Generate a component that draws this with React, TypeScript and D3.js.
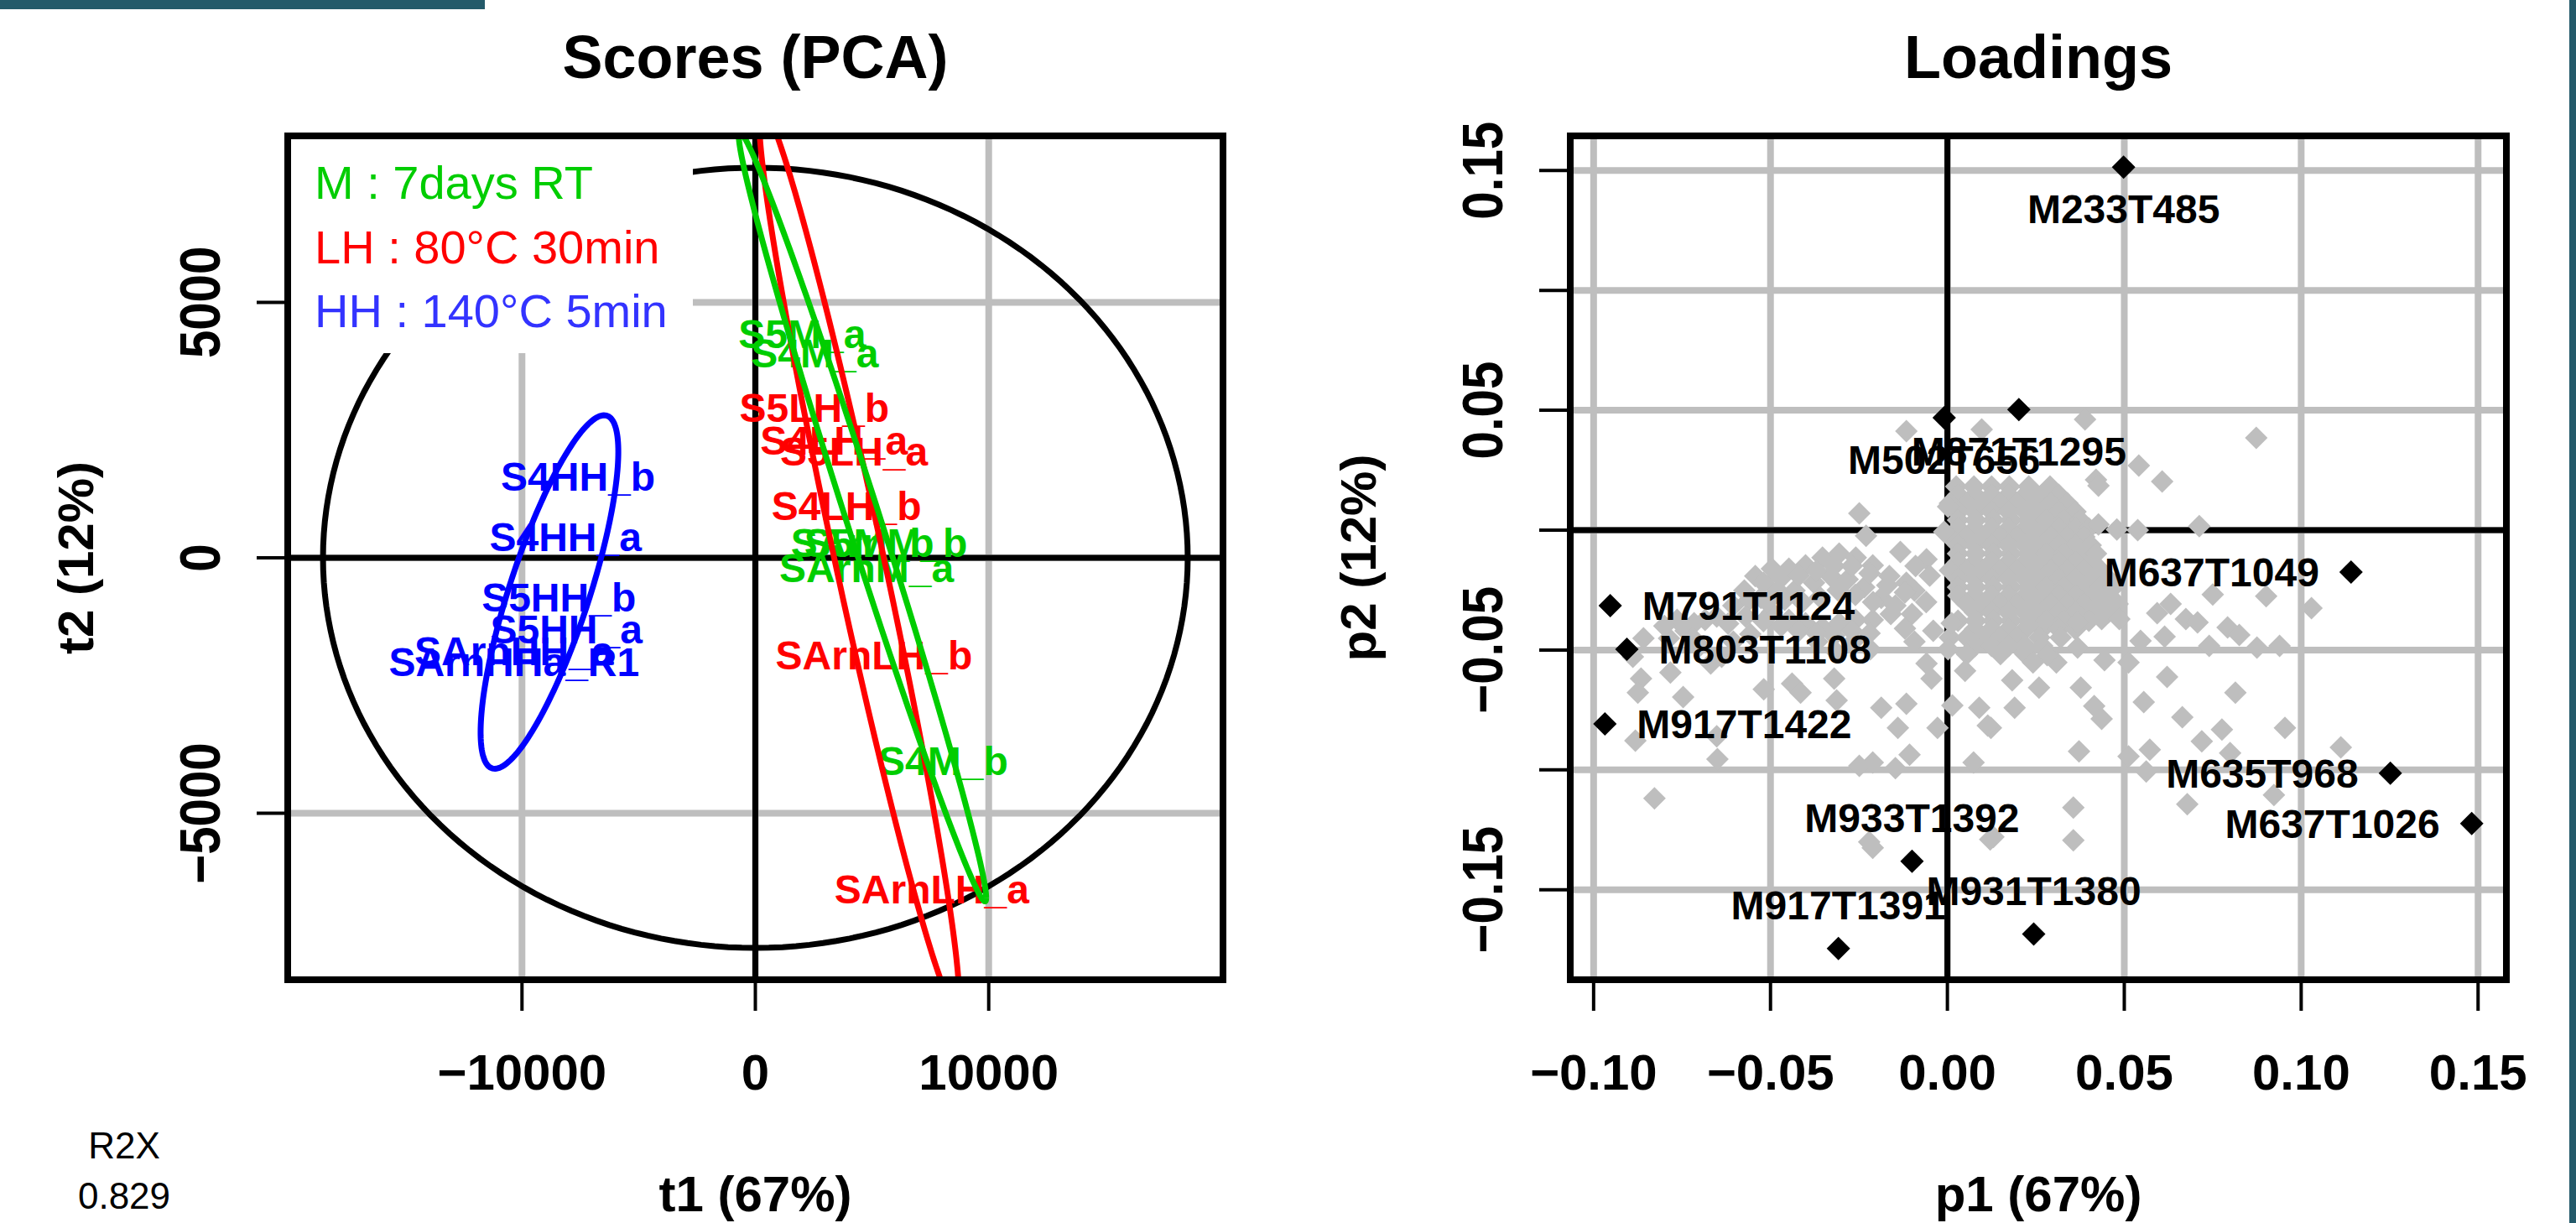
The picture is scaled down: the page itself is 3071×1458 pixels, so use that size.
import React from "react";
import * as d3 from "d3";

const FONT = "'Liberation Sans', Arial, Helvetica, sans-serif";

// ---------- Scores (PCA) data ----------
const sampleNames = [
  "S4HH_a", "S4HH_b", "S5HH_a", "S5HH_b", "SArnHH_a", "SArnHHa_R1",
  "S4LH_a", "S4LH_b", "S5LH_a", "S5LH_b", "SArnLH_a", "SArnLH_b",
  "S4M_a", "S4M_b", "S5M_a", "S5M_b", "SArnM_a", "SArnM_b",
];
const sampleGroups = [
  "HH", "HH", "HH", "HH", "HH", "HH",
  "LH", "LH", "LH", "LH", "LH", "LH",
  "M", "M", "M", "M", "M", "M",
];
const scoreT1 = [
  -8136, -7598, -8100, -8422, -10341, -10341,
  3369, 3907, 4229, 2527, 7562, 5082,
  2545, 8050, 2007, 4874, 4767, 5304,
];
const scoreT2 = [
  410, 1590, -1393, -770, -1819, -2032,
  2295, 1016, 2081, 2934, -6490, -1901,
  3999, -3966, 4376, 295, -197, 295,
];
const groupOrder = ["HH", "LH", "M"];
const groupColors: Record<string, string> = { HH: "#0000FF", LH: "#FF0000", M: "#00CD00" };
const legendText = ["M : 7days RT", "LH : 80°C 30min", "HH : 140°C 5min"];
const legendColors = ["#00CD00", "#FF0000", "#3333FF"];
const scoreXTicks = [-10000, 0, 10000];
const scoreYTicks = [-5000, 0, 5000];
const r2xLabel = ["R2X", "0.829"];

// ---------- Loadings data ----------
const loadNames = [
  "M233T485", "M502T656", "M871T1295", "M637T1049", "M791T1124", "M803T1108",
  "M917T1422", "M635T968", "M637T1026", "M933T1392", "M917T1391", "M931T1380",
];
const loadP1 = [0.0498, -0.0009, 0.0202, 0.1141, -0.0953, -0.0906, -0.0968, 0.1252, 0.1482, -0.01, -0.0308, 0.0244];
const loadP2 = [0.1514, 0.0469, 0.0503, -0.0175, -0.0315, -0.0497, -0.0808, -0.1014, -0.1224, -0.1381, -0.1745, -0.1685];
const loadLabelPos = ["below", "below", "below", "left", "right", "right", "right", "left", "left", "above", "above", "above"];

// grey (unlabelled) variables, scattered part
const otherLoadings: [number, number][] = [
  [0.0389, 0.0462], [0.0873, 0.0385], [-0.0116, 0.0413], [0.0097, 0.042], [0.0541, 0.0269],
  [0.0607, 0.0203], [0.042, 0.021], [0.0427, 0.0185], [-0.0249, 0.007], [0.0712, 0.0017],
  [0.0538, 0.0], [0.0479, 0.0003], [0.0427, 0.0024], [-0.0133, -0.0091], [-0.0059, -0.0122],
  [0.075, -0.0269], [0.0901, -0.0276], [0.1029, -0.0325], [0.0631, -0.0308], [0.0674, -0.0371],
  [0.0707, -0.0385], [0.0593, -0.0346], [0.0792, -0.0406], [0.0825, -0.0437], [0.0875, -0.049],
  [0.0939, -0.0483], [0.074, -0.0483], [0.0614, -0.0444], [0.0546, -0.0462], [0.0512, -0.0552],
  [0.0444, -0.0542], [0.0368, -0.049], [0.0621, -0.0612], [0.0555, -0.0717], [0.0664, -0.078],
  [0.0814, -0.0678], [0.0776, -0.0832], [0.0719, -0.0881], [0.0954, -0.0825], [0.1112, -0.0906],
  [0.0799, -0.093], [0.0572, -0.0916], [0.0512, -0.0944], [0.0372, -0.0923], [0.0562, -0.1007],
  [0.0678, -0.1143], [0.0923, -0.1105], [0.0356, -0.1157], [0.0356, -0.1294], [0.013, -0.128],
  [0.0436, -0.0787], [0.0415, -0.0734], [0.0377, -0.0657], [0.019, -0.0741], [0.0123, -0.0825],
  [0.0183, -0.0626], [0.0259, -0.0657], [0.0308, -0.0552], [0.0282, -0.0521], [0.0436, -0.0371],
  [0.0486, -0.0371], [0.0368, -0.0385], [0.0242, -0.0552],
  [-0.023, -0.0024], [0.0002, 0.0098], [-0.0009, -0.0007], [-0.0543, -0.0192], [-0.0496, -0.0161],
  [-0.0448, -0.0161], [-0.0401, -0.0147], [-0.0353, -0.0115], [-0.0306, -0.0098], [-0.0259, -0.0115],
  [-0.0211, -0.0147], [-0.0164, -0.0192], [-0.0116, -0.022], [-0.0093, -0.0252], [-0.0377, -0.022],
  [-0.033, -0.0192], [-0.0282, -0.0206], [-0.0235, -0.0238], [-0.0187, -0.0283], [-0.0147, -0.0315],
  [-0.0432, -0.0252], [-0.0479, -0.0252], [-0.0527, -0.0283], [-0.0574, -0.0252], [-0.0605, -0.0315],
  [-0.0652, -0.036], [-0.0685, -0.0374], [-0.0716, -0.0388], [-0.0764, -0.0374], [-0.0787, -0.0451],
  [-0.0859, -0.0451], [-0.0889, -0.0528], [-0.0496, -0.0343], [-0.0448, -0.0374], [-0.0401, -0.0388],
  [-0.0353, -0.0406], [-0.0306, -0.0388], [-0.0259, -0.0374], [-0.0211, -0.0374], [-0.0266, -0.0465],
  [-0.0218, -0.0497], [-0.0313, -0.051], [-0.0368, -0.0465], [-0.0557, -0.0434], [-0.0605, -0.0465],
  [-0.0669, -0.0556], [-0.0638, -0.0528], [-0.07, -0.0483], [-0.0093, -0.0465], [-0.0059, -0.0556],
  [-0.0045, -0.0619], [0.0012, -0.0388], [0.0002, -0.0497], [0.005, -0.0587],
  [-0.052, -0.022], [-0.047, -0.02], [-0.042, -0.019], [-0.037, -0.017], [-0.032, -0.015],
  [-0.027, -0.015], [-0.022, -0.018], [-0.017, -0.023], [-0.012, -0.026], [-0.056, -0.029],
  [-0.051, -0.03], [-0.046, -0.029], [-0.041, -0.03], [-0.036, -0.028], [-0.031, -0.025],
  [-0.026, -0.027], [-0.021, -0.03], [-0.016, -0.035], [-0.062, -0.039], [-0.057, -0.036],
  [-0.052, -0.038], [-0.047, -0.04], [-0.042, -0.042], [-0.037, -0.043], [-0.032, -0.044],
  [-0.027, -0.042], [-0.022, -0.043], [-0.074, -0.042], [-0.08, -0.04], [-0.072, -0.045],
  [-0.009, -0.015], [-0.005, -0.019], [-0.006, -0.03], [-0.01, -0.035], [-0.004, -0.042], [-0.012, -0.041],
  [-0.0866, -0.0619], [-0.0783, -0.0594], [-0.0875, -0.0678], [-0.0747, -0.0696], [-0.0882, -0.0878],
  [-0.0652, -0.086], [-0.065, -0.0955], [-0.0828, -0.1119], [-0.0519, -0.0664], [-0.0439, -0.064],
  [-0.0415, -0.0678], [-0.032, -0.0619], [-0.0313, -0.071], [-0.0187, -0.0741], [-0.0116, -0.0724],
  [-0.014, -0.0825], [-0.0028, -0.0825], [0.0014, -0.0731], [-0.0249, -0.0983], [-0.0211, -0.0969],
  [-0.0147, -0.0993], [-0.0107, -0.0937], [-0.0211, -0.1325], [-0.0221, -0.1301], [0.009, -0.0741],
  [0.0114, -0.0815], [0.0074, -0.0969], [0.0121, -0.129],
];

// grey variables, dense core near the origin (rows of p2 with their p1 values)
const coreRows: { p2: number; p1: number[] }[] = [
  { p2: 0.0182, p1: [0.0025, 0.0075, 0.0125, 0.0175, 0.023, 0.029] },
  { p2: 0.0147, p1: [0.0031, 0.0078, 0.0125, 0.0173, 0.022, 0.0268, 0.0315] },
  { p2: 0.0112, p1: [0.0007, 0.0055, 0.0102, 0.0149, 0.0197, 0.0244, 0.0292, 0.0339] },
  { p2: 0.0077, p1: [0.0031, 0.0078, 0.0125, 0.0173, 0.022, 0.0268, 0.0315, 0.0362] },
  { p2: 0.0042, p1: [0.003, 0.008, 0.013, 0.018, 0.023, 0.028, 0.033, 0.0375] },
  { p2: 0.0007, p1: [0.0031, 0.0078, 0.0125, 0.0173, 0.022, 0.0268, 0.0315, 0.0362, 0.04] },
  { p2: -0.0028, p1: [0.0007, 0.0055, 0.0102, 0.0149, 0.0197, 0.0244, 0.0292, 0.0339, 0.0387] },
  { p2: -0.0063, p1: [0.0031, 0.0078, 0.0125, 0.0173, 0.022, 0.0268, 0.0315, 0.0362, 0.0405] },
  { p2: -0.0098, p1: [0.003, 0.008, 0.013, 0.018, 0.023, 0.028, 0.033, 0.038, 0.042] },
  { p2: -0.0133, p1: [0.0031, 0.0078, 0.0125, 0.0173, 0.022, 0.0268, 0.0315, 0.0362, 0.041] },
  { p2: -0.0168, p1: [0.0007, 0.0055, 0.0102, 0.0149, 0.0197, 0.0244, 0.0292, 0.0339, 0.0387, 0.0434] },
  { p2: -0.0203, p1: [0.0031, 0.0078, 0.0125, 0.0173, 0.022, 0.0268, 0.0315, 0.0362, 0.041, 0.0455] },
  { p2: -0.0238, p1: [0.003, 0.008, 0.013, 0.018, 0.023, 0.028, 0.033, 0.038, 0.043, 0.047] },
  { p2: -0.0273, p1: [0.0031, 0.0078, 0.0125, 0.0173, 0.022, 0.0268, 0.0315, 0.0362, 0.041, 0.0455] },
  { p2: -0.0308, p1: [0.0055, 0.0102, 0.0149, 0.0197, 0.0244, 0.0292, 0.0339, 0.0387, 0.0434, 0.0481] },
  { p2: -0.0343, p1: [0.0078, 0.0125, 0.0173, 0.022, 0.0268, 0.0315, 0.0362, 0.041, 0.0455] },
  { p2: -0.0378, p1: [0.003, 0.008, 0.013, 0.018, 0.023, 0.028, 0.033, 0.04] },
  { p2: -0.0413, p1: [0.0078, 0.0125, 0.0173, 0.022, 0.0268, 0.0315, 0.0362] },
  { p2: -0.0448, p1: [0.0007, 0.0055, 0.0102, 0.0149, 0.0197, 0.026, 0.032] },
  { p2: -0.0483, p1: [0.0078, 0.0125, 0.0173, 0.022, 0.0268] },
  { p2: -0.0517, p1: [0.0055, 0.015, 0.022] },
];
const coreLoadings: [number, number][] = coreRows.flatMap((r) => r.p1.map((p) => [p, r.p2] as [number, number]));

const loadXTicks = [-0.1, -0.05, 0, 0.05, 0.1, 0.15];
const loadYTicks = [-0.15, -0.1, -0.05, 0, 0.05, 0.1, 0.15];
const loadYTickLabels = [-0.15, -0.05, 0.05, 0.15];

// ---------- layout ----------
const W = 3071;
const H = 1458;
const scoreBox = { x0: 343, x1: 1458, y0: 162, y1: 1168 };
const loadBox = { x0: 1872, x1: 2988, y0: 162, y1: 1168 };
const GRID = "#BEBEBE";

// Hotelling T2 ellipse radii (as in ropls)
const nObs = scoreT1.length;
const qf2 = (p: number, d: number) => (d / 2) * (Math.pow(1 - p, -2 / d) - 1);
const hotFisN = (((nObs - 1) * 2 * (nObs * nObs - 1)) / (nObs * nObs * (nObs - 2))) * qf2(0.95, nObs - 2);
const radX = Math.sqrt((d3.variance(scoreT1) as number) * hotFisN);
const radY = Math.sqrt((d3.variance(scoreT2) as number) * hotFisN);
const xLim = radX * 1.04 * 1.04;
const yLim = radY * 1.04 * 1.04;

const xS = d3.scaleLinear().domain([-xLim, xLim]).range([scoreBox.x0, scoreBox.x1]);
const yS = d3.scaleLinear().domain([-yLim, yLim]).range([scoreBox.y1, scoreBox.y0]);

// 95% data ellipse per group
const chi = Math.sqrt(-2 * Math.log(0.05));
function groupEllipse(g: string): [number, number][] {
  const idx = sampleGroups.map((s, i) => (s === g ? i : -1)).filter((i) => i >= 0);
  const xs = idx.map((i) => scoreT1[i]);
  const ys = idx.map((i) => scoreT2[i]);
  const mx = d3.mean(xs) as number;
  const my = d3.mean(ys) as number;
  const sxx = d3.variance(xs) as number;
  const syy = d3.variance(ys) as number;
  const sxy = d3.sum(xs.map((x, k) => (x - mx) * (ys[k] - my))) / (xs.length - 1);
  const a = Math.sqrt(sxx);
  const b = sxy / a;
  const d = Math.sqrt(syy - b * b);
  return d3.range(0, 201).map((k) => {
    const th = (2 * Math.PI * k) / 200;
    return [mx + chi * a * Math.cos(th), my + chi * (b * Math.cos(th) + d * Math.sin(th))];
  });
}

const hotPts: [number, number][] = d3.range(0, 201).map((k) => {
  const th = (2 * Math.PI * k) / 200;
  return [radX * Math.cos(th), radY * Math.sin(th)];
});

const scoreLine = d3
  .line<[number, number]>()
  .x((d) => xS(d[0]))
  .y((d) => yS(d[1]));

// loadings scales (data range + 4%)
const allP1 = [...loadP1, ...otherLoadings.map((d) => d[0]), ...coreLoadings.map((d) => d[0])];
const allP2 = [...loadP2, ...otherLoadings.map((d) => d[1]), ...coreLoadings.map((d) => d[1])];
const [p1Min, p1Max] = d3.extent(allP1) as [number, number];
const [p2Min, p2Max] = d3.extent(allP2) as [number, number];
const p1Pad = (p1Max - p1Min) * 0.04;
const p2Pad = (p2Max - p2Min) * 0.04;
const xL = d3.scaleLinear().domain([p1Min - p1Pad, p1Max + p1Pad]).range([loadBox.x0, loadBox.x1]);
const yL = d3.scaleLinear().domain([p2Min - p2Pad, p2Max + p2Pad]).range([loadBox.y1, loadBox.y0]);

const fmtScore = d3.format("d");
const fmtLoad = d3.format(".2f");

const diamond = (x: number, y: number, r: number) =>
  `M${x},${y - r}L${x + r},${y}L${x},${y + r}L${x - r},${y}Z`;

function Frame({ box, xTicks, yTicks, xLabels, yLabels, xs, ys, xFmt, yFmt, title, xTitle, yTitle }: any) {
  const cx = (box.x0 + box.x1) / 2;
  const cy = (box.y0 + box.y1) / 2;
  return (
    <g>
      {/* ticks */}
      {xTicks.map((t: number) => (
        <line key={"xt" + t} x1={xs(t)} x2={xs(t)} y1={box.y1} y2={box.y1 + 37} stroke="#000" strokeWidth={4} />
      ))}
      {yTicks.map((t: number) => (
        <line key={"yt" + t} x1={box.x0 - 37} x2={box.x0} y1={ys(t)} y2={ys(t)} stroke="#000" strokeWidth={4} />
      ))}
      {xLabels.map((t: number) => (
        <text key={"xl" + t} x={xs(t)} y={1299} textAnchor="middle" fontSize={60} fontWeight="bold" fontFamily={FONT}>
          {xFmt(t)}
        </text>
      ))}
      {yLabels.map((t: number) => (
        <text
          key={"yl" + t}
          transform={`translate(${box.x0 - 81},${ys(t)}) rotate(-90) scale(1,1.14)`}
          textAnchor="middle"
          fontSize={60}
          fontWeight="bold"
          fontFamily={FONT}
        >
          {yFmt(t)}
        </text>
      ))}
      <text x={cx} y={93} textAnchor="middle" fontSize={72} fontWeight="bold" fontFamily={FONT}>
        {title}
      </text>
      <text x={cx} y={1444} textAnchor="middle" fontSize={60} fontWeight="bold" fontFamily={FONT}>
        {xTitle}
      </text>
      <text
        transform={`translate(${box.x0 - 232},${cy}) rotate(-90)`}
        textAnchor="middle"
        fontSize={60}
        fontWeight="bold"
        fontFamily={FONT}
      >
        {yTitle}
      </text>
    </g>
  );
}

function ScoresPlot() {
  const b = scoreBox;
  return (
    <g>
      <defs>
        <clipPath id="clipScores">
          <rect x={b.x0} y={b.y0} width={b.x1 - b.x0} height={b.y1 - b.y0} />
        </clipPath>
      </defs>
      <g clipPath="url(#clipScores)">
        {scoreXTicks.map((t) => (
          <line key={"gx" + t} x1={xS(t)} x2={xS(t)} y1={b.y0} y2={b.y1} stroke={GRID} strokeWidth={8} />
        ))}
        {scoreYTicks.map((t) => (
          <line key={"gy" + t} x1={b.x0} x2={b.x1} y1={yS(t)} y2={yS(t)} stroke={GRID} strokeWidth={8} />
        ))}
        <line x1={xS(0)} x2={xS(0)} y1={b.y0} y2={b.y1} stroke="#000" strokeWidth={7} />
        <line x1={b.x0} x2={b.x1} y1={yS(0)} y2={yS(0)} stroke="#000" strokeWidth={7} />
        <path d={scoreLine(hotPts) as string} fill="none" stroke="#000" strokeWidth={7} />
        {/* legend box (white background) */}
        <rect x={346} y={163} width={480} height={258} fill="#fff" />
        {legendText.map((s, i) => (
          <text key={s} x={375} y={237 + i * 76.5} fontSize={56} fontFamily={FONT} fill={legendColors[i]}>
            {s}
          </text>
        ))}
        {sampleNames.map((s, i) => (
          <text
            key={s}
            x={xS(scoreT1[i])}
            y={yS(scoreT2[i]) + 17}
            textAnchor="middle"
            fontSize={48}
            fontWeight="bold"
            fontFamily={FONT}
            fill={groupColors[sampleGroups[i]]}
          >
            {s}
          </text>
        ))}
        {groupOrder.map((g) => (
          <path key={g} d={scoreLine(groupEllipse(g)) as string} fill="none" stroke={groupColors[g]} strokeWidth={7} />
        ))}
      </g>
      <rect x={b.x0} y={b.y0} width={b.x1 - b.x0} height={b.y1 - b.y0} fill="none" stroke="#000" strokeWidth={8} />
      <Frame
        box={b}
        xTicks={scoreXTicks}
        yTicks={scoreYTicks}
        xLabels={scoreXTicks}
        yLabels={scoreYTicks}
        xs={xS}
        ys={yS}
        xFmt={fmtScore}
        yFmt={fmtScore}
        title="Scores (PCA)"
        xTitle="t1 (67%)"
        yTitle="t2 (12%)"
      />
      {r2xLabel.map((s, i) => (
        <text key={s} x={148} y={1381 + i * 60} textAnchor="middle" fontSize={44} fontFamily={FONT}>
          {s}
        </text>
      ))}
    </g>
  );
}

function LoadingsPlot() {
  const b = loadBox;
  return (
    <g>
      <defs>
        <clipPath id="clipLoad">
          <rect x={b.x0} y={b.y0} width={b.x1 - b.x0} height={b.y1 - b.y0} />
        </clipPath>
      </defs>
      <g clipPath="url(#clipLoad)">
        {loadXTicks.map((t) => (
          <line key={"gx" + t} x1={xL(t)} x2={xL(t)} y1={b.y0} y2={b.y1} stroke={GRID} strokeWidth={8} />
        ))}
        {loadYTicks.map((t) => (
          <line key={"gy" + t} x1={b.x0} x2={b.x1} y1={yL(t)} y2={yL(t)} stroke={GRID} strokeWidth={8} />
        ))}
        <line x1={xL(0)} x2={xL(0)} y1={b.y0} y2={b.y1} stroke="#000" strokeWidth={7} />
        <line x1={b.x0} x2={b.x1} y1={yL(0)} y2={yL(0)} stroke="#000" strokeWidth={7} />
        {[...coreLoadings, ...otherLoadings].map((d, i) => (
          <path key={"g" + i} d={diamond(xL(d[0]), yL(d[1]), 13.5)} fill={GRID} />
        ))}
        {loadNames.map((s, i) => (
          <path key={"b" + s} d={diamond(xL(loadP1[i]), yL(loadP2[i]), 14)} fill="#000" />
        ))}
      </g>
      {loadNames.map((s, i) => {
        const x = xL(loadP1[i]);
        const y = yL(loadP2[i]);
        const pos = loadLabelPos[i];
        let tx = x;
        let ty = y + 17;
        let anchor = "middle";
        if (pos === "below") ty = y + 67;
        else if (pos === "above") ty = y - 35;
        else if (pos === "left") {
          tx = x - 38;
          anchor = "end";
        } else {
          tx = x + 38;
          anchor = "start";
        }
        return (
          <text key={"l" + s} x={tx} y={ty} textAnchor={anchor} fontSize={48} fontWeight="bold" fontFamily={FONT}>
            {s}
          </text>
        );
      })}
      <rect x={b.x0} y={b.y0} width={b.x1 - b.x0} height={b.y1 - b.y0} fill="none" stroke="#000" strokeWidth={8} />
      <Frame
        box={b}
        xTicks={loadXTicks}
        yTicks={loadYTicks}
        xLabels={loadXTicks}
        yLabels={loadYTickLabels}
        xs={xL}
        ys={yL}
        xFmt={fmtLoad}
        yFmt={fmtLoad}
        title="Loadings"
        xTitle="p1 (67%)"
        yTitle="p2 (12%)"
      />
    </g>
  );
}

export default function App() {
  return (
    <svg
      width={W}
      height={H}
      style={{ position: "absolute", left: 0, top: 0, background: "#fff" }}
      xmlns="http://www.w3.org/2000/svg"
    >
      <rect x={0} y={0} width={W} height={H} fill="#fff" />
      <rect x={0} y={0} width={578} height={11} fill="#245A6A" />
      <rect x={3063} y={0} width={8} height={H} fill="#245A6A" />
      <ScoresPlot />
      <LoadingsPlot />
    </svg>
  );
}
